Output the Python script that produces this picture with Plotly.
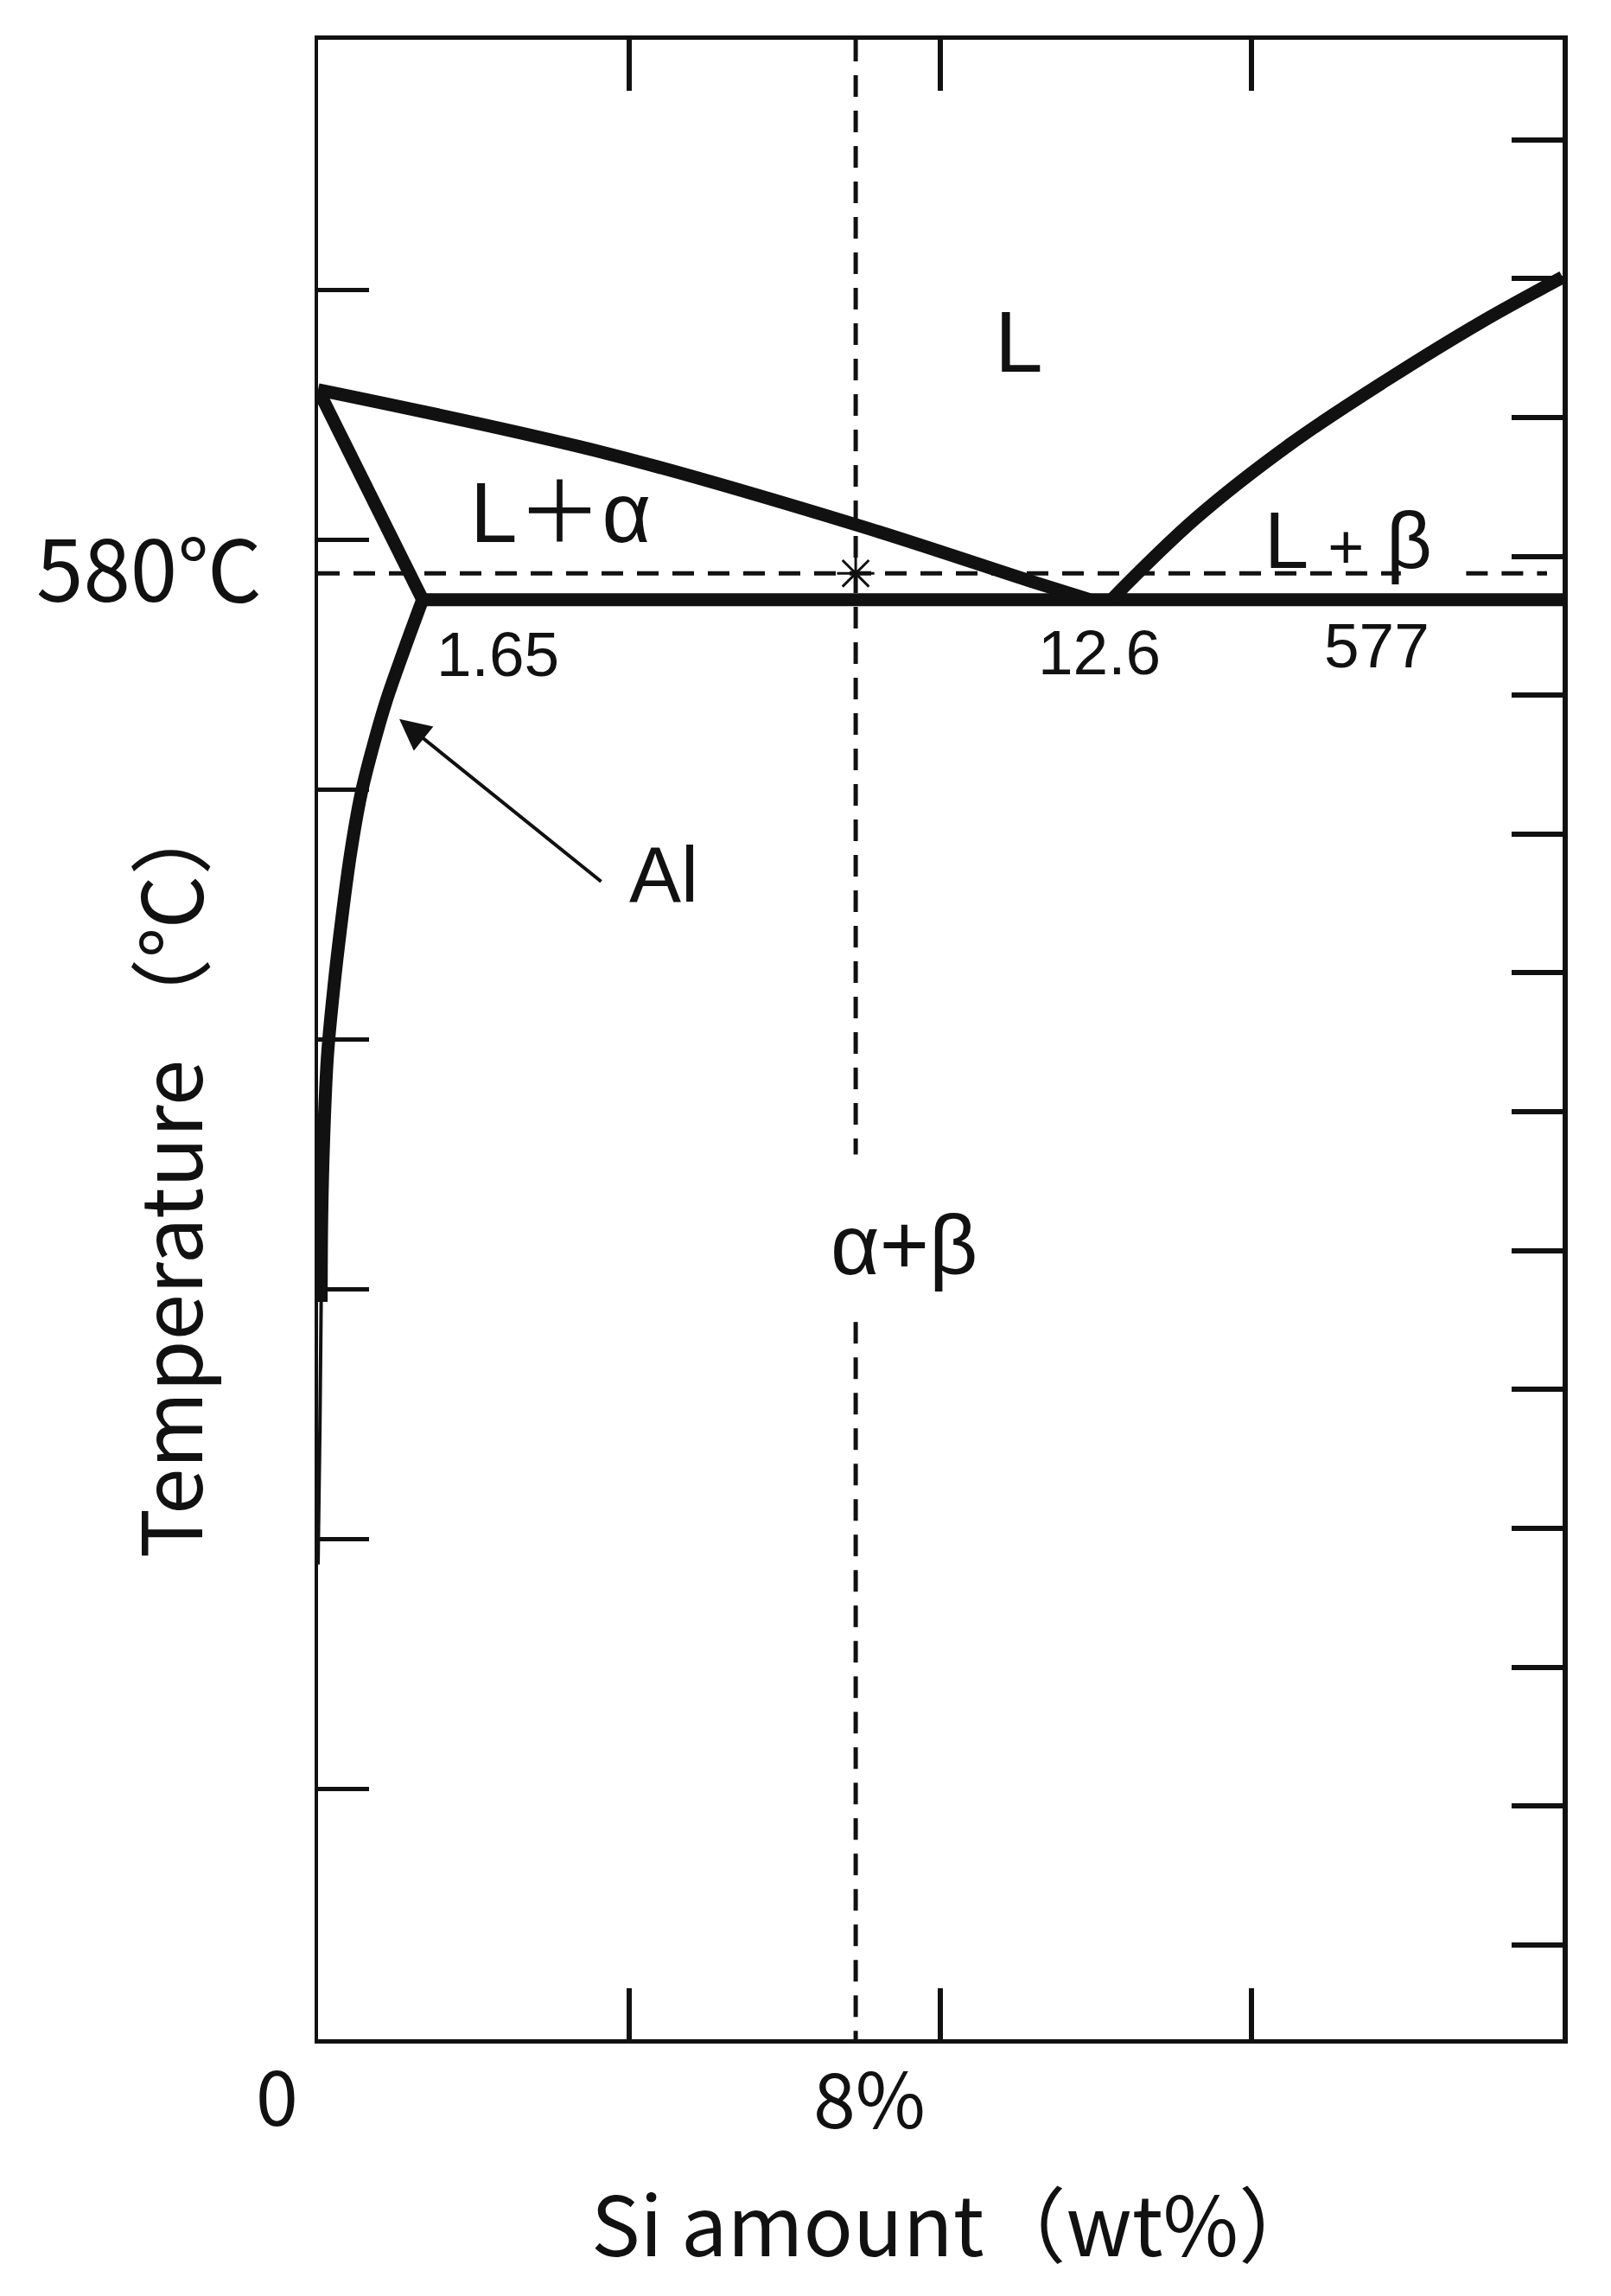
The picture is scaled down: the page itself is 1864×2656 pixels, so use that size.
import plotly.graph_objects as go

# ---------------- data (Si wt% , temperature °C) ----------------
liquidus_al_si = [0.0, 4.61, 8.64, 11.5, 12.4]
liquidus_al_t = [660, 634.7, 606, 583, 576]

solidus_si = [0.0, 1.68]
solidus_t = [660, 576]

eutectic_si = [1.68, 20.0]
eutectic_t = [576, 576]

solvus_si = [1.68, 1.37, 1.09, 0.87, 0.69, 0.52, 0.37, 0.25, 0.15, 0.09, 0.06, 0.05]
solvus_t = [576, 555, 535, 516, 498, 474, 446, 420, 393, 360, 330, 295]

solvus_tail_si = [0.05, 0.03, 0.0]
solvus_tail_t = [295, 245, 190]

liquidus_si_si = [12.75, 14.1, 15.64, 17.17, 18.69, 20.0]
liquidus_si_t = [576, 608.4, 638.5, 663.8, 687, 705]

alloy_si = 8.64             # dashed composition line ("8%")
alloy_upper_t = [800, 354]  # dashed segment above the α+β label
alloy_lower_t = [287, 0]    # dashed segment below the α+β label

ref_t = 586.5                   # dashed temperature line ("580℃")
ref_seg1_si = [0.0, 17.4]
ref_seg2_si = [18.45, 19.75]

x_range = [0, 20]
t_range_c = [0, 800]
t_range_f = [32, 1472]
x_ticks = [5, 10, 15]
t_ticks_c = [100, 200, 300, 400, 500, 600, 700]
t_ticks_f = [100, 200, 300, 400, 500, 600, 700, 800, 900, 1000, 1100, 1200, 1300, 1400]

# ---------------- figure ----------------
INK = "#111111"
FONT_JP = "Noto Sans CJK JP, Noto Sans, sans-serif"
FONT_LAT = "Liberation Sans, Arial, Noto Sans CJK JP, sans-serif"
THICK = 15

fig = go.Figure()


def line(xs, ys, width=THICK, dash="solid", shape="linear"):
    fig.add_trace(go.Scatter(x=xs, y=ys, mode="lines",
                             line=dict(color=INK, width=width, dash=dash,
                                       shape=shape, smoothing=1.0 if shape == "spline" else None),
                             showlegend=False, hoverinfo="skip"))


line(liquidus_al_si, liquidus_al_t, shape="spline")
line(solidus_si, solidus_t)
line(eutectic_si, eutectic_t)
line(solvus_si, solvus_t, shape="spline")
line(solvus_tail_si, solvus_tail_t, width=4, shape="spline")
line(liquidus_si_si, liquidus_si_t, shape="spline")

DASH = "25px,16px"
line([alloy_si, alloy_si], alloy_upper_t, width=5, dash=DASH)
line([alloy_si, alloy_si], alloy_lower_t, width=5, dash=DASH)
line(ref_seg1_si, [ref_t, ref_t], width=5, dash=DASH)
line(ref_seg2_si, [ref_t, ref_t], width=5, dash=DASH)

fig.add_trace(go.Scatter(x=[alloy_si], y=[ref_t], mode="markers",
                         marker=dict(symbol="asterisk-open", size=36, color=INK,
                                     line=dict(color=INK, width=3)),
                         showlegend=False, hoverinfo="skip"))

# empty trace so that the right (°F) axis is drawn
fig.add_trace(go.Scatter(x=[None], y=[None], yaxis="y2", mode="lines",
                         showlegend=False, hoverinfo="skip"))

ann = []


def text(x, y, s, size, family=FONT_LAT, ref="data", angle=0):
    ann.append(dict(x=x, y=y, text=s, showarrow=False,
                    xref="x" if ref == "data" else "paper",
                    yref="y" if ref == "data" else "paper",
                    xanchor="center", yanchor="middle", textangle=angle,
                    font=dict(size=size, family=family, color=INK)))


# phase labels
text(11.26, 679.4, "L", 100)
text(3.90, 610.7, "L＋α", 98)
text(16.56, 599.6, "L <span style='font-size:72px'>+</span> β", 92)
text(9.42, 317.7, "α+β", 98)
text(2.89, 554.4, "1.65", 73)
text(12.56, 555.0, "12.6", 73)
text(17.02, 557.8, "577", 73)
text(5.56, 466.0, "Al", 90)

# arrow to Al solvus
ann.append(dict(x=1.306, y=528.2, ax=4.57, ay=462.8, xref="x", yref="y",
                axref="x", ayref="y", text="", showarrow=True,
                arrowhead=2, arrowsize=1.8, arrowwidth=4, arrowcolor=INK))

# outside labels (paper coordinates)
text(-0.1356, 0.7374, "580℃", 98, FONT_JP, ref="paper")
text(-0.0330, -0.0268, "0", 88, FONT_JP, ref="paper")
text(0.4432, -0.0279, "8%", 88, FONT_JP, ref="paper")
text(0.5125, -0.0906, "Si amount（wt%）", 95, FONT_JP, ref="paper")
text(-0.1220, 0.4323, "Temperature （℃）", 96, FONT_JP, ref="paper", angle=-90)

fig.update_layout(
    width=1864, height=2656,
    margin=dict(l=360, r=64, t=38, b=305),
    paper_bgcolor="white", plot_bgcolor="white",
    annotations=ann,
    xaxis=dict(range=x_range, showgrid=False, zeroline=False,
               showline=True, linecolor=INK, linewidth=4.5, mirror="ticks",
               ticks="inside", tickvals=x_ticks, ticklen=59, tickwidth=6,
               tickcolor=INK, showticklabels=False, fixedrange=True),
    yaxis=dict(range=t_range_c, showgrid=False, zeroline=False,
               showline=True, linecolor=INK, linewidth=3.5,
               ticks="inside", tickvals=t_ticks_c, ticklen=59, tickwidth=5,
               tickcolor=INK, showticklabels=False, fixedrange=True),
    yaxis2=dict(range=t_range_f, overlaying="y", side="right", anchor="x",
                showgrid=False, zeroline=False,
                showline=True, linecolor=INK, linewidth=6,
                ticks="inside", tickvals=t_ticks_f, ticklen=59, tickwidth=6,
                tickcolor=INK, showticklabels=False, fixedrange=True),
)

fig.write_html("out.html")
